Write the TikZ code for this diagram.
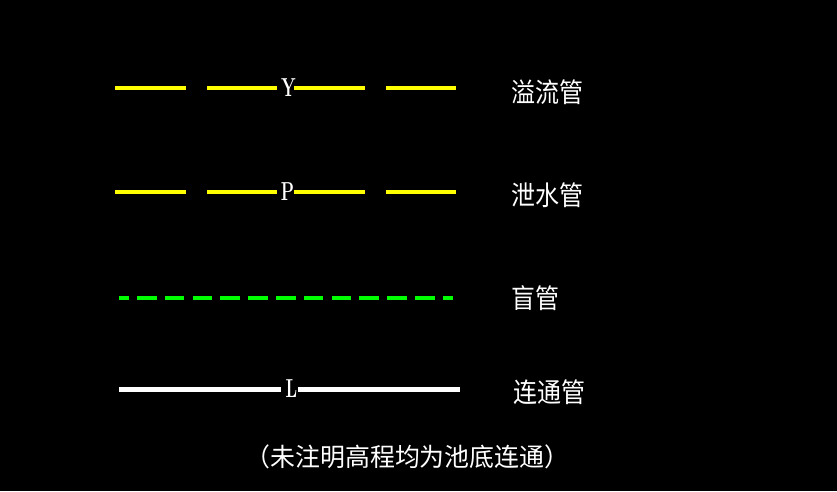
\documentclass[tikz,border=0pt]{standalone}
\usepackage{fontspec}
\newfontfamily\cjk{Noto Sans CJK SC}
\begin{document}
\begin{tikzpicture}[x=1pt,y=-1pt,
  yel/.style={draw={rgb,255:red,255;green,255;blue,0},line width=4.5pt},
  grn/.style={draw={rgb,255:red,0;green,255;blue,0},line width=4pt,dash pattern=on 19.5pt off 8.3pt,dash phase=9.75pt},
  wht/.style={draw=white,line width=5pt},
  lbl/.style={text=white,inner sep=0pt,font=\bfseries\fontsize{26}{26}\selectfont,xscale=0.66},
  cn/.style={text=white,inner sep=0pt,anchor=west,font=\cjk\fontsize{25}{25}\selectfont,yscale=1.08,xscale=0.96}]
\fill[black] (0,0) rectangle (837,491);
\useasboundingbox (0,0) rectangle (837,491);
% overflow pipe
\draw[yel] (115,88) -- (186,88);
\draw[yel] (207,88) -- (277,88);
\draw[yel] (294,88) -- (365,88);
\draw[yel] (386,88) -- (456,88);
\node[lbl] (y) at (288.5,88) {Y};
% drain pipe
\draw[yel] (115,192) -- (186,192);
\draw[yel] (207,192) -- (277,192);
\draw[yel] (294,192) -- (365,192);
\draw[yel] (386,192) -- (456,192);
\node[lbl] (p) at (287.5,192) {P};
% blind pipe
\coordinate (g1) at (119,298);
\coordinate (g2) at (453,298);
\draw[grn] (g1) -- (g2);
% connecting pipe
\draw[wht] (119,389) -- (281,389);
\draw[wht] (298,389) -- (460,389);
\node[lbl] (l) at (291.5,389) {L};
% labels
\node[cn] (t1) at (511,92) {溢流管};
\node[cn] (t2) at (511,195) {泄水管};
\node[cn] (t3) at (511,298) {盲管};
\node[cn] (t4) at (513,392) {连通管};
\node[text=white,inner sep=0pt,font=\cjk\fontsize{23.5}{23.5}\selectfont,yscale=1.08,xscale=1.06] (note) at (407.5,457) {（未注明高程均为池底连通）};
\end{tikzpicture}
\end{document}
